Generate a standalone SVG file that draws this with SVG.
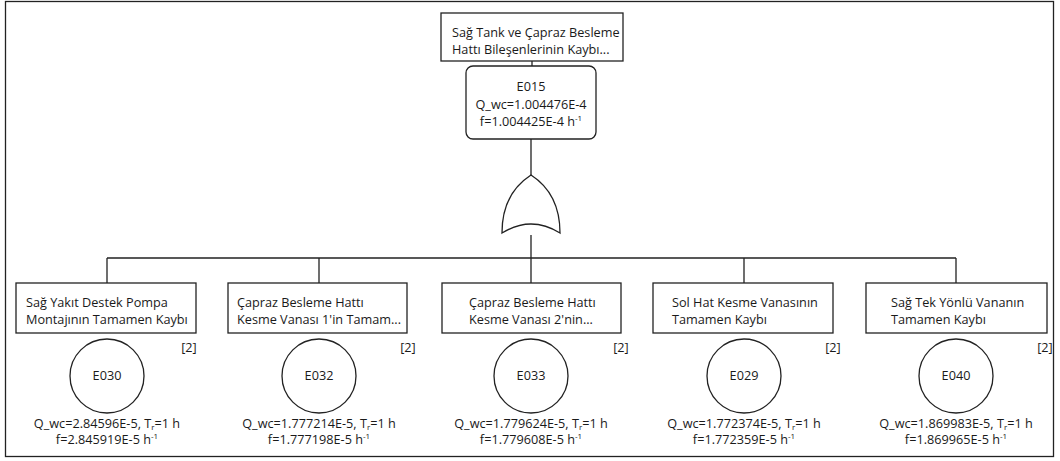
<svg xmlns="http://www.w3.org/2000/svg" width="1060" height="461" viewBox="0 0 1060 461">
<style>
text{font-family:"Open Sans","Noto Sans","DejaVu Sans",sans-serif;font-size:12.7px;fill:#1a1a1a}
.c{text-anchor:middle}
.box{fill:#fff;stroke:#222;stroke-width:1.3}
.ln{fill:none;stroke:#222;stroke-width:1.3}
.sm{font-size:8px}
</style>
<rect x="0" y="0" width="1060" height="461" fill="#fff"/>
<rect x="5.5" y="1.5" width="1048" height="455" fill="none" stroke="#222" stroke-width="1.3"/>
<g id="connectors">
<path class="ln" d="M532,61 V66 M531,139 V175 M531,235 V258 M107,258 H956 M107,258 V283 M319,258 V283 M531,258 V283 M744,258 V283 M956,258 V283"/>
</g>
<g id="E015">
<rect class="box" x="441" y="13" width="182" height="48"/>
<text x="452" y="37">Sağ Tank ve Çapraz Besleme</text>
<text x="452" y="54">Hattı Bileşenlerinin Kaybı...</text>
<rect class="box" x="466" y="66" width="130" height="73" rx="7"/>
<text class="c" x="531" y="91">E015</text>
<text class="c" x="531" y="109">Q_wc=1.004476E-4</text>
<text class="c" x="531" y="126">f=1.004425E-4 h<tspan class="sm" dy="-5">-1</tspan></text>
<path class="box" d="M502,233 C502,205 514,186 531,175 C548,186 560,205 560,233 Q531,215 502,233 Z"/>
</g>
<g id="E030">
<rect class="box" x="16" y="283" width="180" height="50"/>
<text x="26" y="307">Sağ Yakıt Destek Pompa</text>
<text x="26" y="324">Montajının Tamamen Kaybı</text>
<text class="c" x="189" y="352">[2]</text>
<circle class="box" cx="107" cy="376" r="37"/>
<text class="c" x="107" y="380">E030</text>
<text class="c" x="107" y="428">Q_wc=2.84596E-5, T<tspan class="sm" dy="2">r</tspan><tspan dy="-2">=1 h</tspan></text>
<text class="c" x="107" y="444">f=2.845919E-5 h<tspan class="sm" dy="-5">-1</tspan></text>
</g>
<g id="E032">
<rect class="box" x="228" y="283" width="179" height="50"/>
<text x="237" y="307">Çapraz Besleme Hattı</text>
<text x="237" y="324">Kesme Vanası 1'in Tamam...</text>
<text class="c" x="408" y="352">[2]</text>
<circle class="box" cx="319" cy="376" r="37"/>
<text class="c" x="319" y="380">E032</text>
<text class="c" x="319" y="428">Q_wc=1.777214E-5, T<tspan class="sm" dy="2">r</tspan><tspan dy="-2">=1 h</tspan></text>
<text class="c" x="319" y="444">f=1.777198E-5 h<tspan class="sm" dy="-5">-1</tspan></text>
</g>
<g id="E033">
<rect class="box" x="442" y="283" width="179" height="50"/>
<text x="469" y="307">Çapraz Besleme Hattı</text>
<text x="469" y="324">Kesme Vanası 2'nin...</text>
<text class="c" x="621" y="352">[2]</text>
<circle class="box" cx="531" cy="376" r="37"/>
<text class="c" x="531" y="380">E033</text>
<text class="c" x="531" y="428">Q_wc=1.779624E-5, T<tspan class="sm" dy="2">r</tspan><tspan dy="-2">=1 h</tspan></text>
<text class="c" x="531" y="444">f=1.779608E-5 h<tspan class="sm" dy="-5">-1</tspan></text>
</g>
<g id="E029">
<rect class="box" x="653" y="283" width="180" height="50"/>
<text x="672" y="307">Sol Hat Kesme Vanasının</text>
<text x="672" y="324">Tamamen Kaybı</text>
<text class="c" x="833" y="352">[2]</text>
<circle class="box" cx="744" cy="376" r="37"/>
<text class="c" x="744" y="380">E029</text>
<text class="c" x="744" y="428">Q_wc=1.772374E-5, T<tspan class="sm" dy="2">r</tspan><tspan dy="-2">=1 h</tspan></text>
<text class="c" x="744" y="444">f=1.772359E-5 h<tspan class="sm" dy="-5">-1</tspan></text>
</g>
<g id="E040">
<rect class="box" x="866" y="283" width="181" height="50"/>
<text x="891" y="307">Sağ Tek Yönlü Vananın</text>
<text x="891" y="324">Tamamen Kaybı</text>
<text class="c" x="1045" y="352">[2]</text>
<circle class="box" cx="956" cy="376" r="37"/>
<text class="c" x="956" y="380">E040</text>
<text class="c" x="956" y="428">Q_wc=1.869983E-5, T<tspan class="sm" dy="2">r</tspan><tspan dy="-2">=1 h</tspan></text>
<text class="c" x="956" y="444">f=1.869965E-5 h<tspan class="sm" dy="-5">-1</tspan></text>
</g>
</svg>
